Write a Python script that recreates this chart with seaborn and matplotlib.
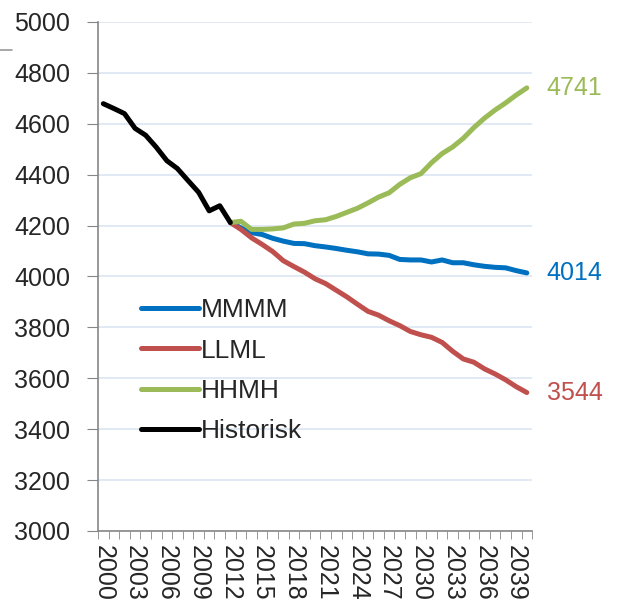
import matplotlib
matplotlib.use("Agg")
import matplotlib.pyplot as plt
import seaborn as sns
import pandas as pd
from matplotlib.lines import Line2D

# historical series 2000-2012
hist_years = list(range(2000, 2013))
hist_vals = [4679, 4660, 4640, 4582, 4555, 4508, 4455, 4424, 4377, 4331, 4258, 4278, 4212]

# projections 2012-2040
proj_years = list(range(2012, 2041))
mmmm = [4212, 4191, 4172, 4165, 4150, 4139, 4130, 4129, 4121, 4116, 4110, 4103, 4097, 4089,
        4088, 4083, 4067, 4065, 4065, 4057, 4065, 4054, 4054, 4046, 4040, 4036, 4034, 4023, 4014]
llml = [4212, 4185, 4152, 4126, 4098, 4062, 4039, 4017, 3991, 3972, 3946, 3920, 3891, 3863,
        3848, 3826, 3807, 3784, 3771, 3761, 3741, 3706, 3676, 3663, 3637, 3617, 3594, 3567, 3544]
hhmh = [4212, 4217, 4185, 4185, 4187, 4191, 4206, 4209, 4219, 4223, 4236, 4252, 4268, 4289,
        4312, 4329, 4362, 4388, 4404, 4447, 4483, 4509, 4543, 4585, 4622, 4654, 4682, 4713, 4741]

series_names = ["MMMM", "LLML", "HHMH", "Historisk"]
colors = {"MMMM": "#0070C0", "LLML": "#C0504D", "HHMH": "#9BBB59", "Historisk": "#000000"}

rows = []
for name, vals in [("MMMM", mmmm), ("LLML", llml), ("HHMH", hhmh)]:
    for y, v in zip(proj_years, vals):
        rows.append({"year": y, "value": v, "serie": name})
for y, v in zip(hist_years, hist_vals):
    rows.append({"year": y, "value": v, "serie": "Historisk"})
df = pd.DataFrame(rows)

sns.set_style("white")
plt.rcParams["font.family"] = ["Liberation Sans", "DejaVu Sans"]

fig = plt.figure(figsize=(6.18, 6.06), dpi=100)
ax = fig.add_axes([0.1586, 0.1238, 0.7024, 0.8399])

sns.lineplot(data=df, x="year", y="value", hue="serie", hue_order=series_names,
             palette=colors, linewidth=3.6, ax=ax, legend=False, sort=True)

ax.set_xlim(1999.5, 2040.5)
ax.set_ylim(3000, 5000)
ax.set_yticks(range(3000, 5001, 200))
ax.yaxis.grid(True, color="#DCE6F2", linewidth=1.2)
ax.set_axisbelow(True)
ax.set_xlabel("")
ax.set_ylabel("")

ax.set_xticks(range(2000, 2041, 3))
ax.set_xticklabels([str(y) for y in range(2000, 2041, 3)], rotation=-90)
ax.set_xticks([y + 0.5 for y in range(1999, 2041)], minor=True)
ax.tick_params(axis="x", which="major", length=0, pad=10, labelsize=18)
ax.tick_params(axis="x", which="minor", length=6, color="#868686", direction="out", bottom=True)
ax.tick_params(axis="y", length=8, color="#868686", direction="out", left=True, labelsize=18, pad=12)

for s in ["top", "right"]:
    ax.spines[s].set_visible(False)
for s in ["left", "bottom"]:
    ax.spines[s].set_color("#868686")
    ax.spines[s].set_linewidth(1.2)

# end labels
for name, vals in [("HHMH", hhmh), ("MMMM", mmmm), ("LLML", llml)]:
    ax.annotate(str(vals[-1]), xy=(proj_years[-1], vals[-1]), xytext=(20, 0),
                textcoords="offset pixels", ha="left", va="center",
                fontsize=18, color=colors[name], annotation_clip=False)

handles = [Line2D([0], [0], color=colors[n], linewidth=3.6) for n in series_names]
ax.legend(handles, series_names, loc="upper left", bbox_to_anchor=(0.1, 0.457),
          frameon=False, fontsize=19, handlelength=2.2, handletextpad=0.05,
          labelspacing=0.62, borderpad=0, borderaxespad=0)

# small stray mark at top left
fig.add_artist(Line2D([0, 12 / 618], [1 - 50 / 606, 1 - 50 / 606], color="#9a9a9a", linewidth=1.2))

fig.savefig("out.png", dpi=100)
